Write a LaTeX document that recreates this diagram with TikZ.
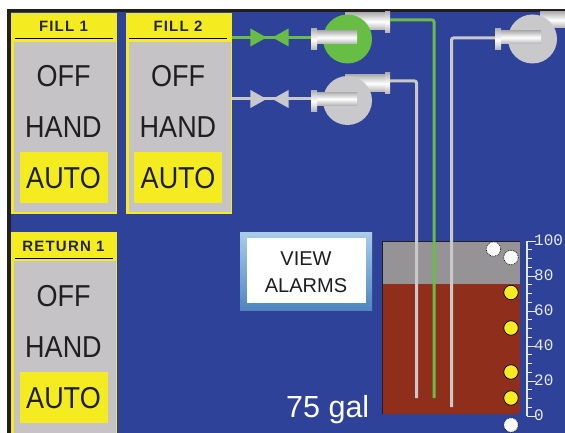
\documentclass[tikz,border=0pt]{standalone}
\usepackage{fontspec}
\setmainfont{Liberation Sans}
\newfontfamily\hdrfont[LetterSpace=8]{Liberation Sans}
\newfontfamily\rulerfont{Liberation Mono}
\usetikzlibrary{arrows.meta,shapes.geometric}
\definecolor{hmiblue}{HTML}{2E4299}
\definecolor{hmiyellow}{HTML}{F4EB20}
\definecolor{hmigrey}{HTML}{C5C3C6}
\definecolor{hmigreen}{HTML}{68BD45}
\definecolor{hmipipe}{HTML}{C9C9CC}
\definecolor{hmibrown}{HTML}{8F2F1B}
\definecolor{hmitank}{HTML}{959395}
\definecolor{hmiframe}{HTML}{231F20}
\definecolor{hmitick}{HTML}{E6E8F4}
\definecolor{btntop}{HTML}{A9CDE9}
\definecolor{btnmid}{HTML}{5A9BD5}
\definecolor{btnlow}{HTML}{4F86BF}
\begin{document}
\begin{tikzpicture}
[x=1pt,y=-1pt
,box/.style={rectangle,inner sep=0pt,outer sep=0pt,minimum width=#1}
,panel/.style={box=105,fill=hmiyellow,draw=hmiyellow,line width=0.8pt,anchor=north}
,ctrl/.style={box=103,fill=hmigrey,draw=hmiyellow,line width=0.6pt,anchor=north}
,hdr/.style={box=98,minimum height=24,font=\hdrfont\bfseries\fontsize{15}{16}\selectfont,text=black!85}
,mode/.style={box=88,font=\fontsize{27}{28}\selectfont,text=black!88,transform shape,yscale=1.12}
,autobg/.style={box=88,minimum height=51,fill=hmiyellow}
,pumpbody/.style={circle,inner sep=0pt,minimum size=49,fill=hmipipe}
,pumpon/.style={pumpbody,fill=hmigreen}
,tube/.style={box=#1,top color=black!30,bottom color=black!30,middle color=white}
,gp/.style={draw=hmigreen,line width=3pt,rounded corners=2pt}
,wp/.style={draw=hmipipe,line width=3pt,rounded corners=2pt}
,valve/.style={isosceles triangle,isosceles triangle stretches,inner sep=0pt,minimum height=16,minimum width=18,anchor=apex}
,dot/.style={circle,inner sep=0pt,minimum size=14.5,draw=black,line width=0.7pt}
,alarmoff/.style={dot,fill=white!90!hmigrey,densely dotted}
,alarmon/.style={dot,fill=hmiyellow}
,scalelbl/.style={text=hmitick,font=\rulerfont\fontsize{16}{16}\selectfont,anchor=west,inner sep=0pt}
]
\path[clip,use as bounding box] (0,0) rectangle (565,433);
\fill[white] (0,0) rectangle (565,433);
\fill[hmiframe] (7,9) rectangle (565,433);
\fill[hmiblue] (11,12.5) rectangle (565,433);
\node[panel,minimum height=200] (p1) at (63.5,13) {};
\node[panel,minimum height=200] (p2) at (178.5,13) {};
\node[panel,minimum height=210] (p3) at (63.5,232) {};
\node[ctrl,minimum height=171] (c1) at (64.5,41) {};
\node[ctrl,minimum height=171] (c2) at (179.5,41) {};
\node[ctrl,minimum height=200] (c3) at (64.5,260) {};
\node[hdr] (h1) at (63.5,26.5) {FILL 1};
\node[hdr] (h2) at (178,26.5) {FILL 2};
\node[hdr] (h3) at (63.5,246) {RETURN 1};
\draw[line width=0.9pt] (h1.south west) -- (h1.south east);
\draw[line width=0.9pt] (h2.south west) -- (h2.south east);
\draw[line width=0.9pt] (h3.south west) -- (h3.south east);
\node[autobg] (a1) at (63.5,177.5) {};
\node[autobg] (a2) at (178,177.5) {};
\node[autobg] (a3) at (63.5,397.5) {};
\node[mode] (off1) at (63.5,76) {OFF};
\node[mode] (hand1) at (63.5,127) {HAND};
\node[mode] (auto1) at (63.5,178) {AUTO};
\node[mode] (off2) at (178,76) {OFF};
\node[mode] (hand2) at (178,127) {HAND};
\node[mode] (auto2) at (178,178) {AUTO};
\node[mode] (off3) at (63.5,296) {OFF};
\node[mode] (hand3) at (63.5,347) {HAND};
\node[mode] (auto3) at (63.5,398) {AUTO};
\node[box=132,minimum height=78,top color=btntop,middle color=btnmid,bottom color=btnlow] (alarmbtn) at (306,271) {};
\node[box=119,minimum height=65,fill=white] (alarmbg) at (306.5,270.5) {};
\node[text=black!88,align=center,font=\fontsize{20}{27}\selectfont,inner sep=0pt] (alarmtxt) at (306,272) {VIEW\\ALARMS};
\node[text=white,font=\fontsize{30.5}{31}\selectfont,inner sep=0pt,anchor=base west] (gal) at (286,417) {75 gal};
\node[box=138,minimum height=173,fill=hmibrown,rounded corners=3pt] (tank) at (451,327.5) {};
\node[box=138,minimum height=43,fill=hmitank,anchor=north] (air) at (tank.north) {};
\draw[hmiframe,line width=0.8pt] (tank.north west) -- (tank.north east);
\draw[hmiframe,line width=1pt] (tank.north west) -- (tank.south west);
\foreach \t in {0,1,...,20} {\draw[hmitick,line width=1pt] (527,241+8.75*\t) -- +(5,0);}
\foreach \t in {0,4,...,20} {\draw[hmitick,line width=1pt] (527,241+8.75*\t) -- +(9,0);}
\draw[hmitick,line width=1.2pt] (527,241) -- (527,416);
\node[scalelbl] (t100) at (534,240) {100};
\node[scalelbl] (t80) at (534,275) {80};
\node[scalelbl] (t60) at (534,310) {60};
\node[scalelbl] (t40) at (534,345) {40};
\node[scalelbl] (t20) at (534,380) {20};
\node[scalelbl] (t0) at (534,415) {0};
\node[tube=40,minimum height=17] (out1) at (365,21.5) {};
\node[tube=5,minimum height=21] (fl1) at (387.5,22) {};
\node[tube=40,minimum height=17] (out2) at (365,83.5) {};
\node[tube=5,minimum height=21] (fl2) at (387.5,83.5) {};
\node[tube=25,minimum height=16] (out3) at (552.5,20) {};
\node[pumpon] (pump1) at (347.5,39) {};
\node[pumpbody] (pump2) at (347.5,100.5) {};
\node[pumpbody] (pump3) at (532.5,39) {};
\node[tube=40,minimum height=13] (in1) at (337,37.5) {};
\node[tube=6,minimum height=21] (il1) at (314,39.5) {};
\node[tube=40,minimum height=13] (in2) at (337,99) {};
\node[tube=6,minimum height=21] (il2) at (314,101) {};
\node[tube=40,minimum height=13] (in3) at (521,37.5) {};
\node[tube=6,minimum height=21] (il3) at (498,39.5) {};
\node[valve,fill=hmigreen,shape border rotate=0] (vg1) at (267,37.5) {};
\node[valve,fill=hmigreen,shape border rotate=180] (vg2) at (272,37.5) {};
\node[valve,fill=hmipipe,shape border rotate=0] (vw1) at (267,99) {};
\node[valve,fill=hmipipe,shape border rotate=180] (vw2) at (272,99) {};
\coordinate (g0) at (231.5,37.5);
\coordinate (w0) at (231.5,99);
\coordinate (g1) at (434,20);
\coordinate (g2) at (434,398);
\coordinate (w1) at (416.5,81);
\coordinate (w2) at (416.5,398);
\coordinate (r1) at (451.5,38);
\coordinate (r2) at (451.5,407);
\draw[gp] (g0) -- (vg1.apex);
\draw[gp] (vg1.apex) -- (vg2.apex);
\draw[gp] (vg2.apex) -- (vg2.apex -| il1.west);
\draw[wp] (w0) -- (vw1.apex);
\draw[wp] (vw1.apex) -- (vw2.apex);
\draw[wp] (vw2.apex) -- (vw2.apex -| il2.west);
\draw[gp] (fl1.east |- g1) -- (g1) -- (g2);
\draw[wp] (fl2.east |- w1) -- (w1) -- (w2);
\draw[wp] (il3.west |- r1) -- (r1) -- (r2);
\node[alarmoff] (al1) at (493.5,249) {};
\node[alarmoff] (al2) at (511,257.5) {};
\node[alarmon] (al3) at (511,292.5) {};
\node[alarmon] (al4) at (511,328) {};
\node[alarmon] (al5) at (511,372) {};
\node[alarmon] (al6) at (511,398) {};
\node[alarmoff] (al7) at (511,425) {};
\end{tikzpicture}
\end{document}
